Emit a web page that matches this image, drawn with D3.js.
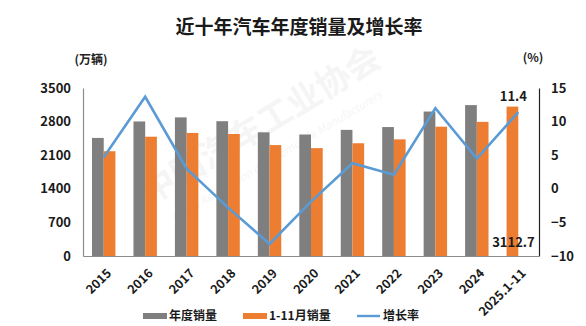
<!DOCTYPE html>
<html>
<head>
<meta charset="utf-8">
<script src="https://cdn.jsdelivr.net/npm/d3@7"></script>
<style>
  body { margin: 0; background: #fff; }
  svg { display: block; font-family: "Noto Sans CJK SC", "Open Sans", sans-serif; }
</style>
</head>
<body>
<script>
const years = ['2015', '2016', '2017', '2018', '2019', '2020', '2021', '2022', '2023', '2024', '2025.1-11'];
const annualSales = [2459.8, 2802.8, 2887.9, 2808.1, 2576.9, 2531.1, 2627.5, 2686.4, 3009.4, 3143.6, null];
const ytdSales = [2182.6, 2485.6, 2563.7, 2541.9, 2311.0, 2247.3, 2348.9, 2430.2, 2693.8, 2794.0, 3112.7];
const growth = [4.7, 13.7, 3.0, -2.8, -8.2, -1.9, 3.8, 2.1, 12.0, 4.5, 11.4];
const leftTicks = [0, 700, 1400, 2100, 2800, 3500];
const rightTicks = [-10, -5, 0, 5, 10, 15];

const width = 586;
const height = 326;
const plot = { left: 83, right: 539, top: 88, bottom: 256 };

const GRAY = '#7f7f7f';
const ORANGE = '#ed7d31';
const BLUE = '#5b9bd5';

const svg = d3.select('body').append('svg')
  .attr('width', width)
  .attr('height', height);

// faint watermark
const wm = svg.append('g').attr('fill', '#000').attr('opacity', 0.035);
wm.append('text')
  .attr('transform', 'translate(150,205) rotate(-31)')
  .attr('font-size', 34)
  .attr('font-weight', 700)
  .text('中国汽车工业协会');
wm.append('text')
  .attr('transform', 'translate(175,222) rotate(-31)')
  .attr('font-size', 11)
  .attr('font-style', 'italic')
  .text('China Association of Automobile Manufacturers');

const x = d3.scaleBand()
  .domain(years)
  .range([plot.left, plot.right])
  .paddingInner(0.435)
  .paddingOuter(0.2175);

const sub = d3.scaleBand()
  .domain(['annual', 'ytd'])
  .range([0, x.bandwidth()]);

const y = d3.scaleLinear().domain([0, 3500]).range([plot.bottom, plot.top]);
const y2 = d3.scaleLinear().domain([-10, 15]).range([plot.bottom, plot.top]);

// title
svg.append('text')
  .attr('x', 299)
  .attr('y', 34)
  .attr('text-anchor', 'middle')
  .attr('font-size', 19)
  .attr('font-weight', 700)
  .attr('fill', '#1a1a1a')
  .text('近十年汽车年度销量及增长率');

svg.append('text')
  .attr('x', 91).attr('y', 64)
  .attr('text-anchor', 'middle')
  .attr('font-size', 12).attr('font-weight', 700)
  .attr('fill', '#222')
  .text('(万辆)');

svg.append('text')
  .attr('x', 533).attr('y', 62)
  .attr('text-anchor', 'middle')
  .attr('font-size', 12).attr('font-weight', 700)
  .attr('fill', '#222')
  .text('(%)');

// bars
const groups = svg.append('g')
  .selectAll('g')
  .data(years)
  .join('g')
    .attr('transform', d => `translate(${x(d)},0)`);

groups.filter((d, i) => annualSales[i] != null)
  .append('rect')
    .attr('x', sub('annual'))
    .attr('width', sub.bandwidth())
    .attr('y', d => y(annualSales[years.indexOf(d)]))
    .attr('height', d => plot.bottom - y(annualSales[years.indexOf(d)]))
    .attr('fill', GRAY);

groups.append('rect')
  .attr('x', (d, i) => annualSales[i] == null ? sub('annual') : sub('ytd'))
  .attr('width', sub.bandwidth())
  .attr('y', (d, i) => y(ytdSales[i]))
  .attr('height', (d, i) => plot.bottom - y(ytdSales[i]))
  .attr('fill', ORANGE);

// axes
const leftAxis = svg.append('g')
  .attr('transform', `translate(${plot.left},0)`)
  .call(d3.axisLeft(y).tickValues(leftTicks).tickFormat(d3.format('d')).tickSize(0).tickPadding(12));
leftAxis.select('.domain').attr('stroke', '#8c8c8c').attr('stroke-width', 1.2);

const rightAxis = svg.append('g')
  .attr('transform', `translate(${plot.right},0)`)
  .call(d3.axisRight(y2).tickValues(rightTicks).tickFormat(d3.format('d')).tickSize(0).tickPadding(12));
rightAxis.select('.domain').attr('stroke', '#222').attr('stroke-width', 1.2);

[leftAxis, rightAxis].forEach(a => a.selectAll('text')
  .attr('font-size', 13)
  .attr('font-weight', 700)
  .attr('fill', '#1a1a1a')
  .attr('font-family', '"Noto Sans CJK SC", sans-serif'));

const xAxis = svg.append('g')
  .attr('transform', `translate(0,${plot.bottom})`)
  .call(d3.axisBottom(x).tickSize(0).tickPadding(0));
xAxis.select('.domain').attr('stroke', '#8c8c8c').attr('stroke-width', 1.2);
xAxis.selectAll('text')
  .attr('font-size', 12.5)
  .attr('font-weight', 700)
  .attr('fill', '#1a1a1a')
  .attr('font-family', '"Noto Sans CJK SC", sans-serif')
  .attr('text-anchor', 'end')
  .attr('dy', 0)
  .attr('transform', 'translate(8.5,18) rotate(-45)');

// growth line
const cx = d => x(d) + x.bandwidth() / 2;
const line = d3.line()
  .x((d, i) => cx(years[i]))
  .y(d => y2(d));

svg.append('path')
  .datum(growth)
  .attr('fill', 'none')
  .attr('stroke', BLUE)
  .attr('stroke-width', 2.6)
  .attr('stroke-linejoin', 'miter')
  .attr('d', line);

// labels for last category
const last = years.length - 1;
const lastBarX = x(years[last]) + sub('annual') + sub.bandwidth() / 2;
svg.append('text')
  .attr('x', lastBarX + 1)
  .attr('y', y2(growth[last]) - 11)
  .attr('text-anchor', 'middle')
  .attr('font-size', 13).attr('font-weight', 700)
  .attr('fill', '#1a1a1a')
  .text(growth[last].toFixed(1));

svg.append('text')
  .attr('x', lastBarX + 1)
  .attr('y', y(0) - 9)
  .attr('text-anchor', 'middle')
  .attr('font-size', 13).attr('font-weight', 700)
  .attr('fill', '#1a1a1a')
  .text(ytdSales[last].toFixed(1));

// legend
const legend = svg.append('g').attr('font-size', 12).attr('font-weight', 700).attr('fill', '#1a1a1a');
const items = [
  { label: '年度销量', color: GRAY, type: 'bar', x: 143 },
  { label: '1-11月销量', color: ORANGE, type: 'bar', x: 243 },
  { label: '增长率', color: BLUE, type: 'line', x: 357 }
];
items.forEach(it => {
  const g = legend.append('g').attr('transform', `translate(${it.x},316)`);
  if (it.type === 'bar') {
    g.append('rect').attr('x', 0).attr('y', -3).attr('width', 24).attr('height', 6).attr('fill', it.color);
  } else {
    g.append('line').attr('x1', 0).attr('x2', 23).attr('y1', 0).attr('y2', 0)
      .attr('stroke', it.color).attr('stroke-width', 2.4);
  }
  g.append('text').attr('x', 26).attr('y', 0).attr('dy', '0.36em').text(it.label);
});
</script>
</body>
</html>
